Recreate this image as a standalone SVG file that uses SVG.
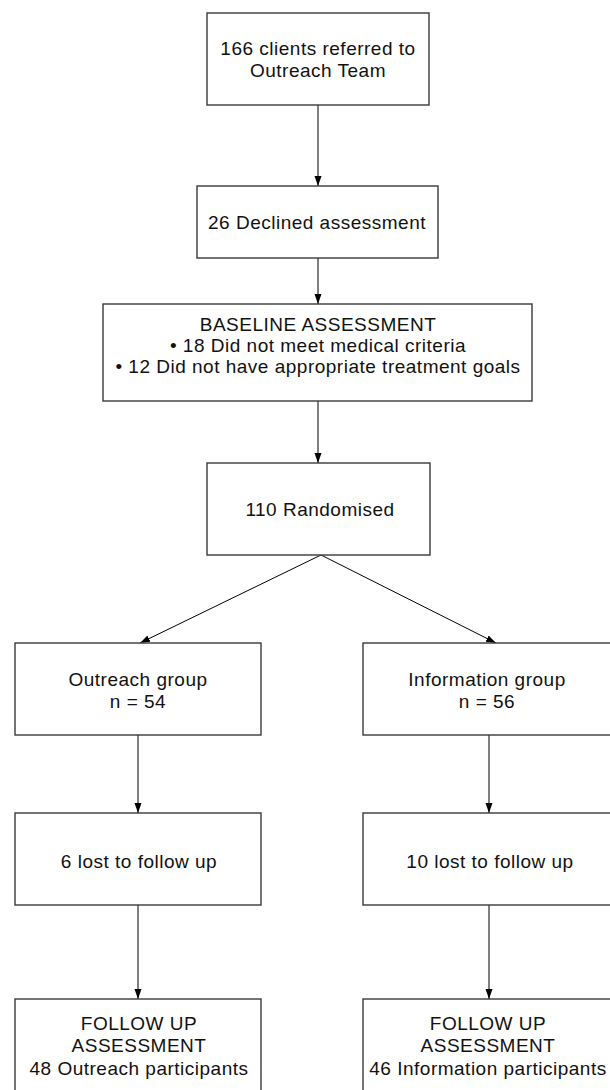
<svg xmlns="http://www.w3.org/2000/svg" width="610" height="1090" viewBox="0 0 610 1090">
<style>
.box{fill:#fff;stroke:#3a3a3a;stroke-width:1.4}
.t{font-family:"Liberation Sans",Arial,sans-serif;font-size:19px;letter-spacing:0.5px;fill:#111;text-anchor:middle}
.c{stroke:#000;stroke-width:1;fill:none;marker-end:url(#ah)}
</style>
<defs>
<marker id="ah" viewBox="0 0 10 10" refX="10" refY="5" markerWidth="10" markerHeight="10" markerUnits="userSpaceOnUse" orient="auto">
<path d="M0,1.5 L10,5 L0,8.5 Z" fill="#000"/>
</marker>
</defs>
<rect width="610" height="1090" fill="#fff"/>
<g id="connectors">
<line class="c" x1="318" y1="105" x2="318" y2="186"/>
<line class="c" x1="318" y1="258" x2="318" y2="304"/>
<line class="c" x1="318" y1="401" x2="318" y2="463"/>
<line class="c" x1="321" y1="555" x2="140" y2="643"/>
<line class="c" x1="321" y1="555" x2="496" y2="643"/>
<line class="c" x1="138" y1="735" x2="138" y2="813"/>
<line class="c" x1="489" y1="735" x2="489" y2="813"/>
<line class="c" x1="138" y1="905" x2="138" y2="999"/>
<line class="c" x1="489" y1="905" x2="489" y2="999"/>
</g>
<g id="n1"><rect class="box" x="207" y="13" width="222" height="92"/>
<text class="t" x="318" y="55">166 clients referred to</text>
<text class="t" x="318" y="77">Outreach Team</text></g>
<g id="n2"><rect class="box" x="197" y="186" width="241" height="72"/>
<text class="t" x="317" y="229">26 Declined assessment</text></g>
<g id="n3"><rect class="box" x="103" y="304" width="429" height="97"/>
<text class="t" x="318" y="331">BASELINE ASSESSMENT</text>
<text class="t" x="318" y="352">• 18 Did not meet medical criteria</text>
<text class="t" x="318" y="373">• 12 Did not have appropriate treatment goals</text></g>
<g id="n4"><rect class="box" x="207" y="463" width="223" height="92"/>
<text class="t" x="320" y="516">110 Randomised</text></g>
<g id="n5"><rect class="box" x="15" y="643" width="246" height="92"/>
<text class="t" x="138" y="686">Outreach group</text>
<text class="t" x="138" y="708">n = 54</text></g>
<g id="n6"><rect class="box" x="363" y="643" width="252" height="92"/>
<text class="t" x="487" y="686">Information group</text>
<text class="t" x="487" y="708">n = 56</text></g>
<g id="n7"><rect class="box" x="15" y="813" width="246" height="92"/>
<text class="t" x="139" y="868">6 lost to follow up</text></g>
<g id="n8"><rect class="box" x="363" y="813" width="252" height="92"/>
<text class="t" x="490" y="868">10 lost to follow up</text></g>
<g id="n9"><rect class="box" x="15" y="999" width="246" height="95"/>
<text class="t" x="139" y="1030">FOLLOW UP</text>
<text class="t" x="139" y="1052">ASSESSMENT</text>
<text class="t" x="139" y="1075">48 Outreach participants</text></g>
<g id="n10"><rect class="box" x="363" y="999" width="252" height="95"/>
<text class="t" x="488" y="1030">FOLLOW UP</text>
<text class="t" x="488" y="1052">ASSESSMENT</text>
<text class="t" x="488" y="1075">46 Information participants</text></g>
</svg>
